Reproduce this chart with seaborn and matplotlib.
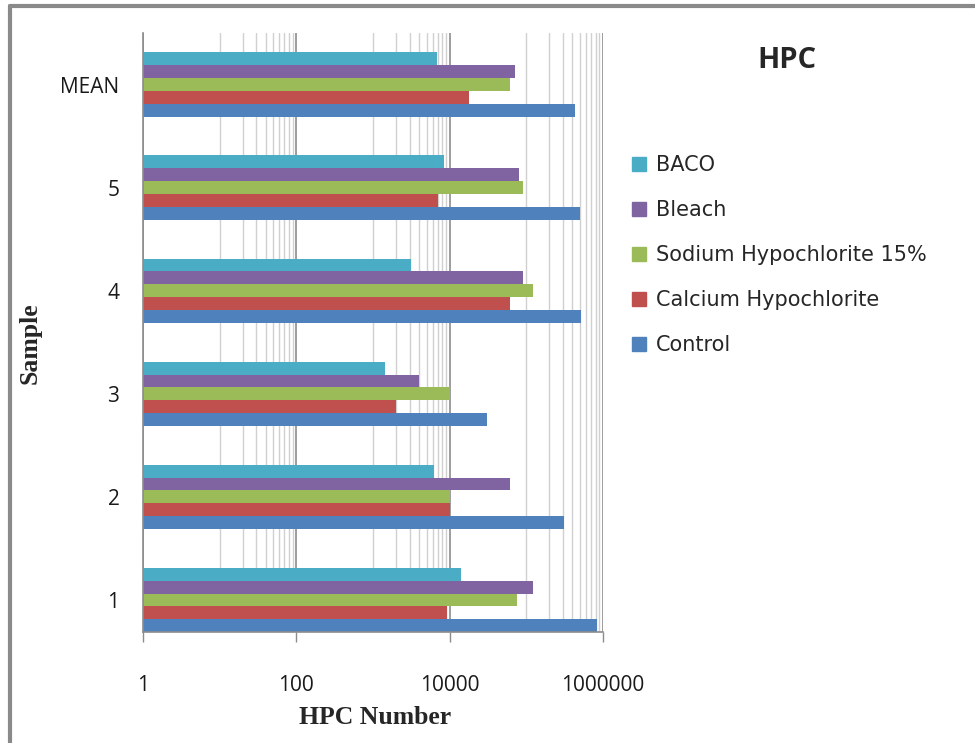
import numpy as np
import pandas as pd
import seaborn as sns
import matplotlib.pyplot as plt
from matplotlib import ticker
from matplotlib.lines import Line2D

# values (HPC counts, log axis)
samples = ['1', '2', '3', '4', '5', 'MEAN']
control = [830000, 307000, 31000, 515000, 500000, 436000]
calcium = [9100, 10000, 2000, 62000, 7000, 18000]
sodium = [76000, 10000, 10000, 123000, 91000, 62000]
bleach = [121000, 62000, 4000, 91000, 81000, 72000]
baco = [14000, 6200, 1420, 3100, 8400, 6900]

treatments = ['BACO', 'Bleach', 'Sodium Hypochlorite 15%',
              'Calcium Hypochlorite', 'Control']
series = [baco, bleach, sodium, calcium, control]
colors = ['#4BACC6', '#8064A2', '#9BBB59', '#C0504D', '#4F81BD']

rows = []
for name, vals in zip(treatments, series):
    for s, v in zip(samples, vals):
        rows.append({'Sample': s, 'Treatment': name, 'HPC': v})
df = pd.DataFrame(rows)

sns.set_theme(style='white')
plt.rcParams['font.family'] = ['Open Sans', 'DejaVu Sans']

fig = plt.figure(figsize=(9.75, 7.43), dpi=100)
ax = fig.add_axes([143 / 975, 1 - 632 / 743, 460 / 975, 599 / 743])
ax.set_xscale('log')

sns.barplot(data=df, x='HPC', y='Sample', hue='Treatment', orient='h',
            order=samples[::-1], hue_order=treatments,
            palette=dict(zip(treatments, colors)), saturation=1,
            width=0.625, linewidth=0, errorbar=None, ax=ax)

ax.set_xlim(1, 1e6)
ax.set_ylim(5.31, -0.5)

# excel-style log axis: major every 2 decades, minor at multiples of 10
ax.xaxis.set_major_locator(ticker.FixedLocator([1, 100, 1e4, 1e6]))
ax.xaxis.set_major_formatter(ticker.FuncFormatter(lambda v, p: f'{int(v)}'))
minor = np.outer([1, 100, 1e4], np.arange(10, 100, 10)).ravel()
ax.xaxis.set_minor_locator(ticker.FixedLocator(minor))
ax.xaxis.set_minor_formatter(ticker.NullFormatter())

ax.grid(True, axis='x', which='major', color='#8c8c8c', linewidth=1.2)
ax.grid(True, axis='x', which='minor', color='#d0d0d0', linewidth=1.0)
ax.grid(False, axis='y')
ax.set_axisbelow(True)

ax.tick_params(axis='x', which='major', length=7, width=1, color='#8c8c8c',
               pad=24, labelsize=15, direction='out', bottom=True)
ax.tick_params(axis='x', which='minor', length=0)
ax.tick_params(axis='y', length=0, pad=17, labelsize=15)
for lab in ax.get_xticklabels() + ax.get_yticklabels():
    lab.set_color('#1a1a1a')

for side in ['top', 'right']:
    ax.spines[side].set_visible(False)
for side in ['left', 'bottom']:
    ax.spines[side].set_color('#8c8c8c')
    ax.spines[side].set_linewidth(1.2)

ax.set_xlabel('')
ax.set_ylabel('')
fig.text(375 / 975, 1 - 717 / 743, 'HPC Number', ha='center', va='center',
         fontsize=18.5, fontweight='bold', family='Liberation Serif')
fig.text(30 / 975, 1 - 343 / 743, 'Sample', ha='center', va='center',
         rotation=90, fontsize=18.5, fontweight='bold', family='Liberation Serif')
fig.text(787 / 975, 1 - 60 / 743, 'HPC', ha='center', va='center',
         fontsize=21, fontweight='bold')

ax.get_legend().remove()
handles = [plt.Rectangle((0, 0), 1, 1, color=c) for c in colors]
fig.legend(handles, treatments, loc='upper left',
           bbox_to_anchor=(632 / 975, 1 - 155 / 743), frameon=False,
           prop={'family': 'DejaVu Sans', 'size': 15},
           handlelength=0.65, handleheight=0.65,
           handletextpad=0.5, labelspacing=1.2, borderpad=0, borderaxespad=0)

# thin frame on the top and left edge of the picture
fig.add_artist(Line2D([10 / 975, 10 / 975], [0, 1 - 6 / 743],
                      transform=fig.transFigure, color='#8a8a8a', lw=3))
fig.add_artist(Line2D([10 / 975, 1], [1 - 6 / 743, 1 - 6 / 743],
                      transform=fig.transFigure, color='#8a8a8a', lw=3))

fig.savefig('out.png', dpi=100)
